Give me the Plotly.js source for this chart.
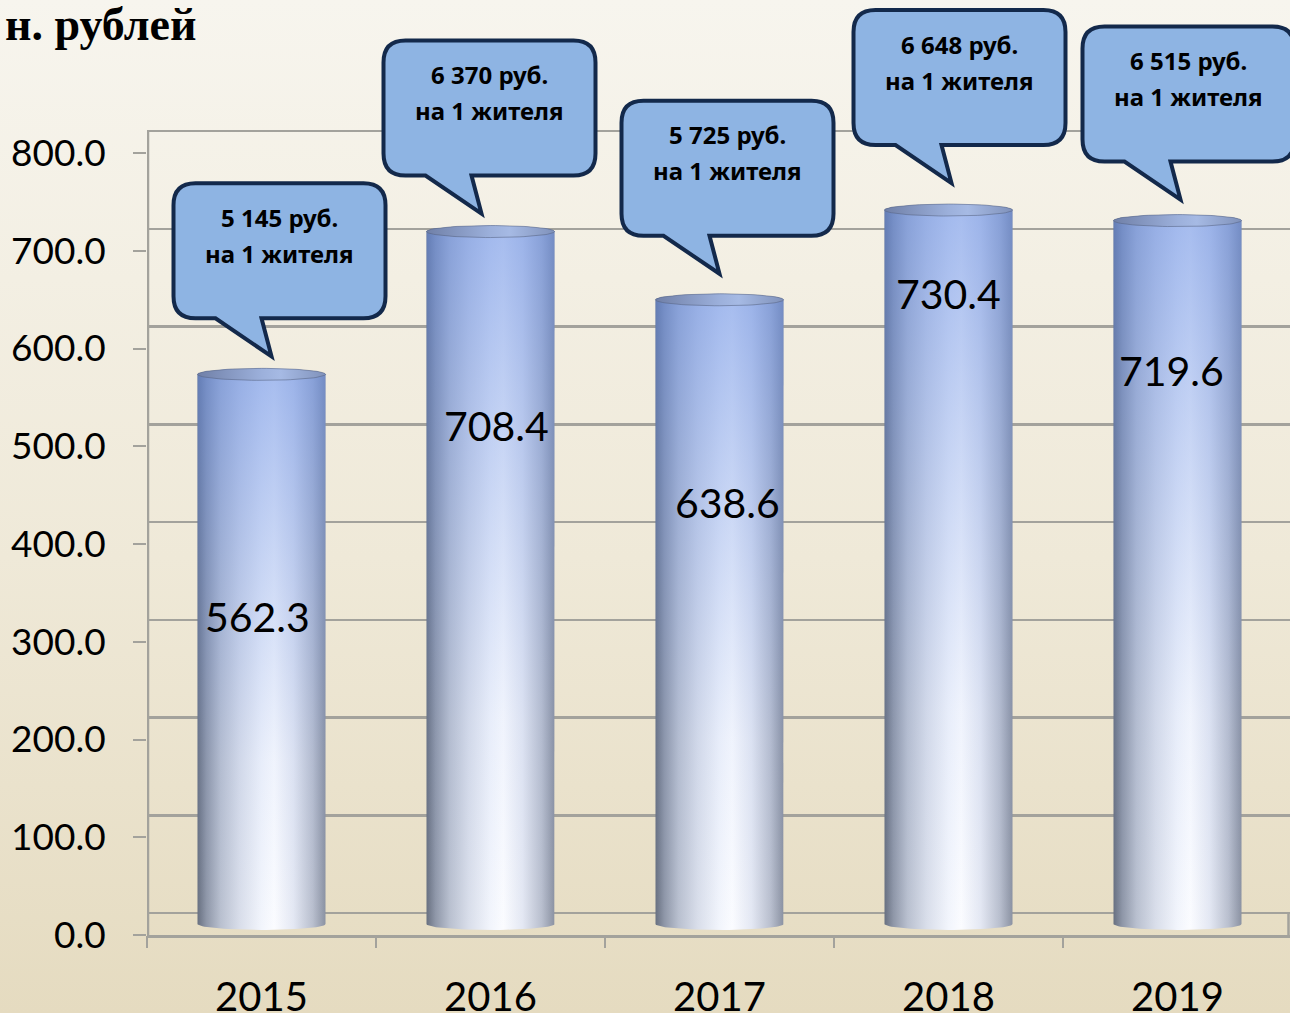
<!DOCTYPE html>
<html><head><meta charset="utf-8">
<script src="https://cdn.plot.ly/plotly-3.0.1.min.js"></script>
<style>html,body{margin:0;padding:0;background:#efe9d8;}#chart{width:1290px;height:1013px;}</style>
</head><body><div id="chart"></div>
<script>
// ---------- data ----------
const years = ['2015', '2016', '2017', '2018', '2019'];
const values = [562.3, 708.4, 638.6, 730.4, 719.6];
const perCapita = ['5 145', '6 370', '5 725', '6 648', '6 515'];
const yTicks = [0, 100, 200, 300, 400, 500, 600, 700, 800];
const unitTitle = 'н. рублей';
const perCapitaUnit = 'руб.';
const perCapitaNote = 'на 1 жителя';

// ---------- label / callout placement (positions, not data) ----------
const labelDxPx = [-4, 6, 8, 0, -6];
const labelY = [303, 499, 420, 634, 555];
const tipDxPx = [10, -9, 0, 3, 3];
const tipGapPx = [18, 18, 26, 27, 21];

// ---------- geometry ----------
const W = 1290, H = 1013, L = 147, B = 935;
const kx = 229, ky = 0.9775, depthPx = 22;
const dU = depthPx / ky;
const xMin = -0.5, xMax = xMin + (W - L) / kx;
const yFrontMax = B / ky;
const px2dx = p => p / kx, px2dy = p => p / ky;
const halfW = px2dx(64), ry = px2dy(6);

const traces = [];
// background gradient (full-figure subplot)
traces.push({x:[0,1,1,0,0], y:[0,0,1,1,0], xaxis:'x', yaxis:'y', mode:'lines', line:{width:0},
  fill:'toself', fillgradient:{type:'vertical', colorscale:[[0,'#e5dbc0'],[0.45,'#efe9d8'],[1,'#f7f5ee']]},
  hoverinfo:'skip', showlegend:false});
// dummy traces so all axes are built
traces.push({x:[null], y:[null], xaxis:'x2', yaxis:'y2', mode:'markers', showlegend:false, hoverinfo:'skip'});
traces.push({x:[null], y:[null], xaxis:'x3', yaxis:'y2', mode:'markers', showlegend:false, hoverinfo:'skip'});

const N = 40;
values.forEach((v, i) => {
  const base = -dU / 2, top = v - dU / 2;
  const xs = [], ys = [];
  for (let k = 0; k <= N; k++) { const t = Math.PI - Math.PI * k / N; xs.push(i + halfW * Math.cos(t)); ys.push(top + ry * Math.sin(t)); }
  for (let k = 0; k <= N; k++) { const t = -Math.PI * k / N; xs.push(i + halfW * Math.cos(t)); ys.push(base + ry * Math.sin(t)); }
  xs.push(xs[0]); ys.push(ys[0]);
  traces.push({x:xs, y:ys, xaxis:'x2', yaxis:'y3', mode:'lines', line:{width:0}, fill:'toself',
    fillgradient:{type:'horizontal', colorscale:[[0,'#687080'],[0.07,'#8f97a8'],[0.18,'#b9c0cf'],[0.33,'#d9deea'],[0.5,'#f2f5fc'],[0.6,'#fbfcff'],[0.75,'#e4e8f3'],[0.9,'#b9bfce'],[1,'#8b92a2']]},
    hoverinfo:'skip', showlegend:false});
  traces.push({x:xs, y:ys, xaxis:'x2', yaxis:'y3', mode:'lines', line:{width:0}, fill:'toself',
    fillgradient:{type:'vertical', colorscale:[[0,'rgba(110,145,225,0)'],[0.3,'rgba(110,145,225,0.08)'],[1,'rgba(95,135,225,0.55)']]},
    hoverinfo:'skip', showlegend:false});
  const ex = [], ey = [];
  for (let k = 0; k <= 2 * N; k++) { const t = 2 * Math.PI * k / (2 * N); ex.push(i + halfW * Math.cos(t)); ey.push(top + ry * Math.sin(t)); }
  traces.push({x:ex, y:ey, xaxis:'x2', yaxis:'y3', mode:'lines', line:{width:1, color:'rgba(85,98,130,0.55)'}, fill:'toself',
    fillgradient:{type:'horizontal', colorscale:[[0,'#7080a8'],[0.5,'#9cb0db'],[0.65,'#a6bae4'],[1,'#8092bb']]},
    hoverinfo:'skip', showlegend:false});
});

const shapes = [];
const annotations = [];
// back-wall left edge and floor right edge
shapes.push({type:'line', xref:'x2', yref:'y3', x0:xMin + px2dx(1), x1:xMin + px2dx(1), y0:-dU, y1:800, line:{color:'#a3a29c', width:2.5}, layer:'below'});
shapes.push({type:'line', xref:'x2', yref:'y3', x0:xMax - px2dx(1.5), x1:xMax - px2dx(1.5), y0:-dU, y1:0, line:{color:'#a3a29c', width:2.5}, layer:'below'});

values.forEach((v, i) => {
  const top = v - dU / 2;
  const tipX = i + px2dx(tipDxPx[i]);
  const tipY = top + px2dy(tipGapPx[i]);
  const left = tipX - px2dx(98), right = left + px2dx(212);
  const bottom = tipY + px2dy(38), boxTop = bottom + px2dy(135);
  const rx = px2dx(22), rY = px2dy(22);
  const path = `M ${left+rx},${boxTop} L ${right-rx},${boxTop} Q ${right},${boxTop} ${right},${boxTop-rY} ` +
    `L ${right},${bottom+rY} Q ${right},${bottom} ${right-rx},${bottom} L ${left+px2dx(88)},${bottom} L ${tipX},${tipY} ` +
    `L ${left+px2dx(42)},${bottom} L ${left+rx},${bottom} Q ${left},${bottom} ${left},${bottom+rY} L ${left},${boxTop-rY} ` +
    `Q ${left},${boxTop} ${left+rx},${boxTop} Z`;
  shapes.push({type:'path', xref:'x2', yref:'y3', path:path, fillcolor:'#8eb4e3', line:{color:'#13294b', width:4}, layer:'above'});
  const cx = left + px2dx(106);
  annotations.push({xref:'x2', yref:'y3', x:cx, y:boxTop - px2dy(34), text:perCapita[i] + ' ' + perCapitaUnit, showarrow:false,
    font:{family:'Noto Sans, Open Sans, sans-serif', size:24, weight:700, color:'#000'}});
  annotations.push({xref:'x2', yref:'y3', x:cx, y:boxTop - px2dy(70), text:perCapitaNote, showarrow:false,
    font:{family:'Noto Sans, Open Sans, sans-serif', size:24, weight:700, color:'#000'}});
  annotations.push({xref:'x2', yref:'y3', x:i + px2dx(labelDxPx[i]), y:labelY[i], text:v.toFixed(1), showarrow:false,
    font:{family:'Lato, Noto Sans, sans-serif', size:41, color:'#000'}});
});
annotations.push({xref:'paper', yref:'paper', x:3 / W, y:1 - 24 / H, xanchor:'left', yanchor:'middle', text:unitTitle, showarrow:false,
  font:{family:'Liberation Serif, serif', size:46, weight:700, color:'#000'}});

const layout = {
  width:W, height:H, autosize:false,
  margin:{l:0, r:0, t:0, b:0, pad:0},
  paper_bgcolor:'#efe9d8', plot_bgcolor:'rgba(0,0,0,0)',
  showlegend:false,
  xaxis:{domain:[0,1], range:[0,1], visible:false, fixedrange:true},
  yaxis:{domain:[0,1], range:[0,1], visible:false, fixedrange:true},
  xaxis2:{domain:[L / W, 1], anchor:'y2', range:[xMin, xMax], tickvals:years.map((_, i) => i), ticktext:years,
    ticks:'', showgrid:false, zeroline:false, showline:true, linecolor:'#a3a29c', linewidth:2.5,
    tickfont:{family:'Lato, Noto Sans, sans-serif', size:40, color:'#000'}, ticklabelstandoff:25},
  xaxis3:{overlaying:'x2', anchor:'y2', range:[xMin, xMax], tickvals:[-0.5, 0.5, 1.5, 2.5, 3.5],
    ticks:'outside', ticklen:12, tickwidth:2, tickcolor:'#a3a29c', showticklabels:false, showgrid:false, zeroline:false, showline:false},
  yaxis2:{domain:[(H - B) / H, 1], anchor:'x2', range:[0, yFrontMax], tickvals:yTicks, ticktext:yTicks.map(v => v.toFixed(1)),
    ticks:'outside', ticklen:13, tickwidth:2, tickcolor:'#a3a29c', showgrid:false, zeroline:false, showline:false,
    tickfont:{family:'Lato, Noto Sans, sans-serif', size:37, color:'#000'}, ticklabelstandoff:20},
  yaxis3:{overlaying:'y2', anchor:'x2', range:[-dU, yFrontMax - dU], tickvals:yTicks, showgrid:true, gridcolor:'#a3a29c', gridwidth:2.5,
    showticklabels:false, ticks:'', zeroline:false, showline:false},
  shapes:shapes,
  annotations:annotations
};
Plotly.newPlot('chart', traces, layout, {staticPlot:true, displayModeBar:false});
</script></body></html>
